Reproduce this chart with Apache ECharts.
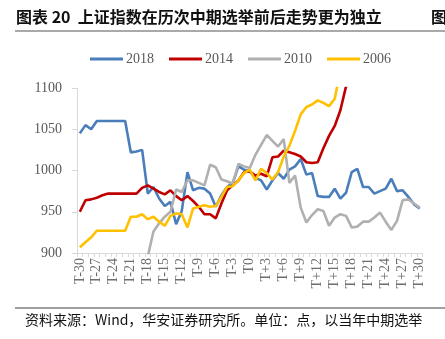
<!DOCTYPE html>
<html><head><meta charset="utf-8">
<script src="https://cdn.jsdelivr.net/npm/echarts@6/dist/echarts.min.js"></script>
<style>html,body{margin:0;padding:0;background:#fff;}#c{width:445px;height:339px;}</style>
</head><body><div id="c"></div>
<script>
var categories = ["T-30","T-29","T-28","T-27","T-26","T-25","T-24","T-23","T-22","T-21","T-20","T-19","T-18","T-17","T-16","T-15","T-14","T-13","T-12","T-11","T-10","T-9","T-8","T-7","T-6","T-5","T-4","T-3","T-2","T-1","T0","T+1","T+2","T+3","T+4","T+5","T+6","T+7","T+8","T+9","T+10","T+11","T+12","T+13","T+14","T+15","T+16","T+17","T+18","T+19","T+20","T+21","T+22","T+23","T+24","T+25","T+26","T+27","T+28","T+29","T+30"];
var s2018 = [1045,1055,1050,1060,1060,1060,1060,1060,1060,1022,1023,1025,972,980,966,957,962,935,951,998,976,979,978,972,956,970,980,985,1005,1001,999,991,988,977,988,997,990,1001,1005,1014,995,997,969,968,968,978,966,973,998,1002,980,980,972,975,978,990,975,976,968,959,954];
var s2014 = [950,964,965,967,970,972,972,972,972,972,972,979,982,978,974,971,976,969,964,969,963,956,947,947,942,960,976,982,988,998,999,994,996,993,1016,1017,1024,1022,1020,1017,1010,1009,1010,1027,1042,1054,1073,1102,1125,1140,1150,1165,1175,1190,1205,1215,1230,1240,1255,1265,1280];
var s2010 = [872,868,875,880,877,870,866,872,878,884,880,889,896,926,936,944,950,977,974,988,988,985,982,1007,1004,989,987,984,1008,1005,1003,1019,1031,1043,1036,1029,1038,985,994,955,937,946,953,951,933,943,947,945,931,932,938,938,943,949,938,928,939,964,965,960,955];
var s2006 = [907,913,919,927,927,927,927,927,927,944,944,947,941,944,938,933,945,948,947,931,954,956,958,956,957,968,980,981,988,997,1001,988,1002,997,989,998,1017,1030,1048,1068,1077,1080,1085,1082,1078,1087,1121,1140,1160,1175,1190,1210,1225,1240,1260,1270,1290,1300,1320,1335,1350];
var seriesNames = ["2018","2014","2010","2006"];
var yTicks = [900, 950, 1000, 1050, 1100];

var colors = ["#4A7EBB","#C00000","#B0B0B0","#FFC000"];
var serif = "Liberation Serif";
var chart = echarts.init(document.getElementById('c'), null, {renderer:'canvas'});
var data = [s2018, s2014, s2010, s2006];
chart.setOption({
  animation: false,
  color: colors,
  grid: {left: 77, right: 22.5, top: 88, bottom: 86, containLabel: false},
  legend: {
    top: 47, left: 85, itemWidth: 33, itemHeight: 3, itemGap: 15,
    icon: 'rect',
    textStyle: {fontFamily: serif, fontSize: 14, color: '#595959', padding: [0,0,0,-2]},
    data: seriesNames
  },
  xAxis: {
    type: 'category', data: categories, boundaryGap: true,
    axisLine: {lineStyle: {color: '#D9D9D9', width: 1}},
    axisTick: {show: true, interval: 0, length: 4, lineStyle: {color: '#D9D9D9'}},
    axisLabel: {interval: 2, rotate: 90, margin: 5, fontFamily: serif, fontSize: 14, color: '#6E6E6E'}
  },
  yAxis: {
    type: 'value', min: yTicks[0], max: yTicks[yTicks.length-1], interval: 50,
    axisLine: {show: true, lineStyle: {color: '#D9D9D9', width: 1}},
    axisTick: {show: true, length: 5, inside: false, lineStyle: {color: '#D9D9D9'}},
    splitLine: {show: false},
    axisLabel: {margin: 15, fontFamily: serif, fontSize: 14, color: '#595959', formatter: function(v){ return String(v); }}
  },
  series: seriesNames.map(function(n, k){
    return {name: n, type: 'line', data: data[k], symbol: 'none', clip: true,
      lineStyle: {width: 2.6, color: colors[k]}, itemStyle: {color: colors[k]}};
  }),
  graphic: [
    {type: 'text', left: 16, top: 9, style: {text: '图表 20  上证指数在历次中期选举前后走势更为独立', font: 'bold 16px "Noto Sans CJK SC", sans-serif', fill: '#111'}},
    {type: 'text', left: 431, top: 9, style: {text: '图', font: 'bold 16px "Noto Sans CJK SC", sans-serif', fill: '#111'}},
    {type: 'line', shape: {x1: 15, y1: 31, x2: 445, y2: 31}, style: {stroke: '#8C8C8C', lineWidth: 1.5}},
    {type: 'line', shape: {x1: 15, y1: 308, x2: 445, y2: 308}, style: {stroke: '#404040', lineWidth: 1}},
    {type: 'text', left: 25, top: 313, style: {text: '资料来源：Wind，华安证券研究所。单位：点，以当年中期选举', font: '14px "Noto Sans CJK SC", sans-serif', fill: '#111'}}
  ]
});
</script></body></html>
